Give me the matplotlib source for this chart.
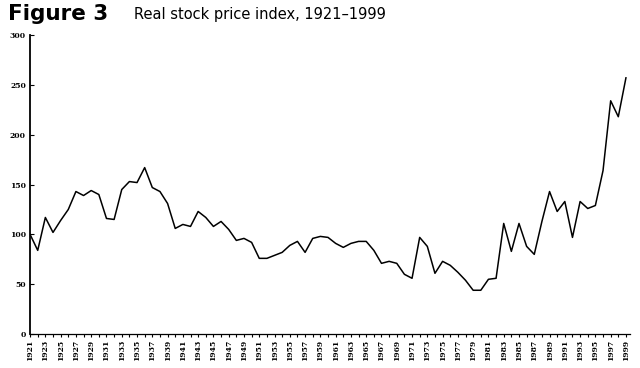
import matplotlib
matplotlib.use("Agg")
import matplotlib.pyplot as plt

# Real stock price index (one value per year)
years = list(range(1921, 2000))
index = [
    100, 84, 117, 102, 114, 125, 143, 139, 144, 140,   # 1921-1930
    116, 115, 145, 153, 152, 167, 147, 143, 131, 106,   # 1931-1940
    110, 108, 123, 117, 108, 113, 105, 94, 96, 92,      # 1941-1950
    76, 76, 79, 82, 89, 93, 82, 96, 98, 97,             # 1951-1960
    91, 87, 91, 93, 93, 84, 71, 73, 71, 60,             # 1961-1970
    56, 97, 88, 61, 73, 69, 62, 54, 44, 44,             # 1971-1980
    55, 56, 111, 83, 111, 88, 80, 113, 143, 123,        # 1981-1990
    133, 97, 133, 126, 129, 164, 234, 218, 257,         # 1991-1999
]
ytick_vals = [0, 50, 100, 150, 200, 250, 300]
label_years = years[::2]

fig = plt.figure(figsize=(6.4, 3.68), dpi=100)
ax = fig.add_axes([0.047, 0.092, 0.937, 0.813])

ax.plot(years, index, color="black", lw=1.1)

ax.set_xlim(1921, 1999.5)
ax.set_ylim(0, 300)
ax.spines["top"].set_visible(False)
ax.spines["right"].set_visible(False)
ax.spines["left"].set_linewidth(1.3)
ax.spines["bottom"].set_linewidth(0.9)

ax.set_yticks(ytick_vals)
ax.set_yticklabels([str(v) for v in ytick_vals], fontsize=5.5,
                   family="DejaVu Serif", fontweight="bold")
ax.tick_params(axis="y", direction="in", length=3, width=0.8, pad=3)

ax.set_xticks(years, minor=True)
ax.set_xticks(label_years)
ax.set_xticklabels([str(y) for y in label_years], rotation=90, fontsize=5.5,
                   family="DejaVu Serif", fontweight="bold")
ax.tick_params(axis="x", which="both", direction="out", length=2, width=0.8, pad=2)

fig.text(0.012, 0.962, "Figure 3", fontsize=15.5, fontweight="heavy",
         family="DejaVu Sans", va="center", ha="left")
fig.text(0.21, 0.96, "Real stock price index, 1921\u20131999", fontsize=10.5,
         family="DejaVu Sans", va="center", ha="left")

fig.savefig("out.png", dpi=100)
